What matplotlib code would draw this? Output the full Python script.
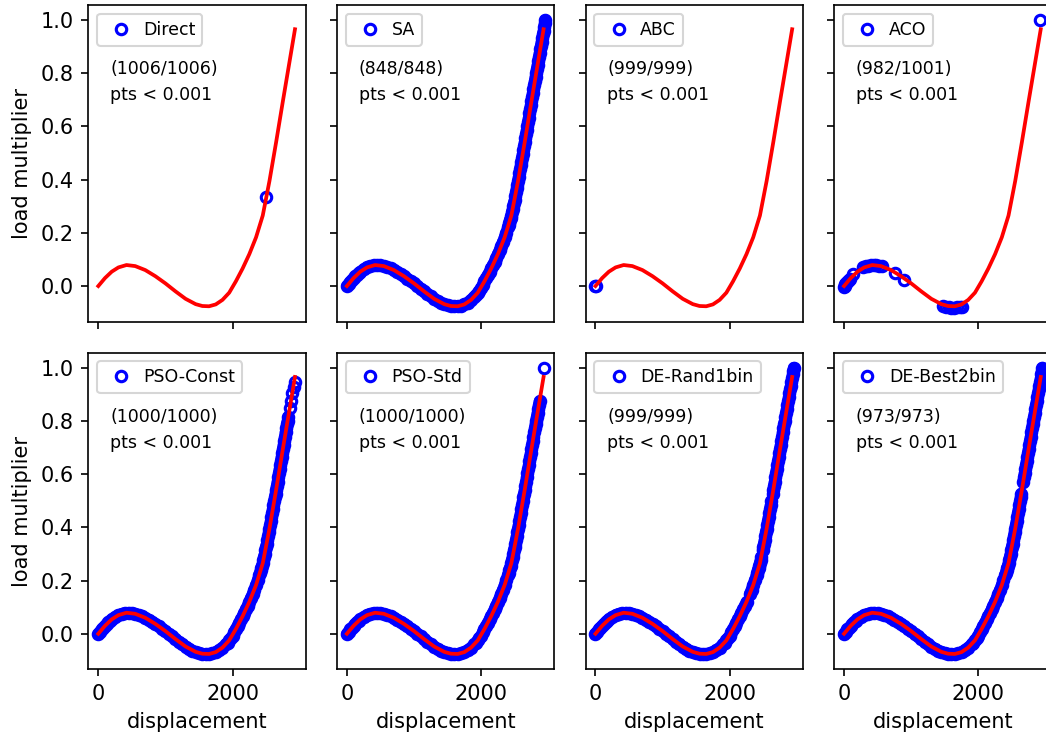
import matplotlib
matplotlib.use("Agg")
import matplotlib.pyplot as plt
import numpy as np

# ---------------- data ----------------
methods = ["Direct", "SA", "ABC", "ACO", "PSO-Const", "PSO-Std", "DE-Rand1bin", "DE-Best2bin"]
counts = ["(1006/1006)", "(848/848)", "(999/999)", "(982/1001)",
          "(1000/1000)", "(1000/1000)", "(999/999)", "(973/973)"]
tol_text = "pts < 0.001"

# reference equilibrium path (red line)
ref_x = [0, 100, 200, 300, 420, 550, 700, 850, 1000, 1150, 1300, 1450, 1550, 1650,
         1750, 1850, 1950, 2050, 2150, 2250, 2350, 2450, 2550, 2650, 2750, 2850, 2930]
ref_y = [0.000, 0.030, 0.054, 0.070, 0.079, 0.075, 0.060, 0.037, 0.010, -0.020, -0.048,
         -0.068, -0.075, -0.076, -0.069, -0.052, -0.025, 0.018, 0.066, 0.120, 0.183,
         0.265, 0.395, 0.542, 0.695, 0.845, 0.965]

# densely traced solution points (blue markers)
path_x = [0, 25, 50, 75, 100, 125, 150, 175, 200, 250, 300, 350, 400, 450, 500, 550,
          600, 650, 700, 750, 800, 850, 900, 950, 1000, 1050, 1100, 1150, 1200, 1250,
          1300, 1350, 1400, 1450, 1500, 1550, 1600, 1650, 1700, 1750, 1800, 1850, 1900,
          1925, 1950, 1975, 2000, 2025, 2050, 2075, 2100, 2125, 2150, 2175, 2200, 2225,
          2250, 2275, 2300, 2325, 2350, 2375,
          2400, 2410, 2420, 2430, 2440, 2450, 2460, 2470, 2480, 2490, 2500, 2510, 2520,
          2530, 2540, 2550, 2560, 2570, 2580, 2590, 2600, 2610, 2620, 2630, 2640, 2650,
          2660, 2670, 2680, 2690, 2700, 2710, 2720, 2730, 2740, 2750, 2760, 2770, 2780,
          2790, 2800, 2810, 2820, 2830, 2840, 2850, 2860, 2870, 2880, 2890, 2900, 2910,
          2920, 2930, 2940, 2948, 2955]
path_y = [0.000, 0.008, 0.016, 0.023, 0.030, 0.037, 0.043, 0.049, 0.054, 0.063, 0.070,
          0.075, 0.078, 0.079, 0.078, 0.075, 0.071, 0.066, 0.060, 0.053, 0.045, 0.037,
          0.028, 0.019, 0.010, 0.000, -0.010, -0.020, -0.030, -0.039, -0.048, -0.056,
          -0.063, -0.068, -0.072, -0.075, -0.076, -0.076, -0.074, -0.069, -0.062, -0.052,
          -0.040, -0.033, -0.025, -0.017, -0.008, 0.005, 0.018, 0.030, 0.042, 0.054,
          0.066, 0.079, 0.092, 0.106, 0.120, 0.135, 0.150, 0.166, 0.183, 0.201,
          0.220, 0.229, 0.238, 0.247, 0.256, 0.265, 0.277, 0.289, 0.301, 0.313, 0.325,
          0.339, 0.353, 0.367, 0.381, 0.395, 0.410, 0.424, 0.439, 0.453, 0.468, 0.483,
          0.498, 0.512, 0.527, 0.542, 0.557, 0.572, 0.588, 0.603, 0.618, 0.633, 0.649,
          0.664, 0.680, 0.695, 0.710, 0.726, 0.741, 0.757, 0.772, 0.787, 0.801, 0.816,
          0.830, 0.845, 0.860, 0.874, 0.889, 0.903, 0.918, 0.932, 0.946, 0.960, 0.975,
          0.988, 1.000]

direct_x = [2497]
direct_y = [0.333]
abc_x = [0, 3]
abc_y = [0.000, 0.001]
aco_x = [0, 10, 20, 30, 45, 60, 75, 90, 127, 280, 320, 360, 400, 440, 480, 520, 560,
         760, 900, 1480, 1520, 1560, 1600, 1640, 1680, 1720, 1760, 2920]
aco_y = [-0.004, 0.002, 0.006, 0.010, 0.015, 0.020, 0.024, 0.028, 0.044, 0.071, 0.074,
         0.077, 0.078, 0.079, 0.078, 0.077, 0.075, 0.050, 0.022, -0.076, -0.078, -0.080,
         -0.081, -0.081, -0.080, -0.079, -0.077, 1.000]
pso_const_top = 0.82
pso_const_extra_x = [2852, 2871, 2890, 2908, 2925]
pso_const_extra_y = [0.850, 0.876, 0.903, 0.928, 0.947]
pso_std_top = 0.88
pso_std_extra_x = [2940]
pso_std_extra_y = [1.000]
de_rand_gaps = [(0.133, 0.143), (0.300, 0.312), (0.505, 0.520)]
de_best_gaps = [(0.535, 0.565)]

# ---------------- helpers ----------------
px = np.array(path_x, float)
py = np.array(path_y, float)
EMPTY = np.array([])


def path_without(gaps):
    keep = np.ones(len(py), bool)
    for lo, hi in gaps:
        keep &= ~((py > lo) & (py < hi))
    bx = np.where(keep, px, np.nan)
    by = np.where(keep, py, np.nan)
    return px[keep], py[keep], bx, by


def path_below(top, ex, ey):
    keep = py <= top
    mx = np.concatenate([px[keep], ex])
    my = np.concatenate([py[keep], ey])
    return mx, my, px[keep], py[keep]


blue = {
    "Direct": (direct_x, direct_y, EMPTY, EMPTY),
    "SA": (px, py, px, py),
    "ABC": (abc_x, abc_y, EMPTY, EMPTY),
    "ACO": (aco_x, aco_y, EMPTY, EMPTY),
    "PSO-Const": path_below(pso_const_top, pso_const_extra_x, pso_const_extra_y),
    "PSO-Std": path_below(pso_std_top, pso_std_extra_x, pso_std_extra_y),
    "DE-Rand1bin": path_without(de_rand_gaps),
    "DE-Best2bin": path_without(de_best_gaps),
}

# ---------------- figure ----------------
fig, axes = plt.subplots(2, 4, figsize=(1046 / 150, 740 / 150), dpi=150,
                         sharex=True, sharey=True)
fig.subplots_adjust(left=0.0846, right=1.0053, top=0.9932, bottom=0.0954,
                    wspace=0.144, hspace=0.098)

for ax, name, cnt in zip(axes.flat, methods, counts):
    mx, my, bx, by = blue[name]
    # dense runs of overlapping circles form a solid band
    if len(bx):
        ax.plot(bx, by, "-", color="blue", lw=5.6, solid_capstyle="round",
                solid_joinstyle="round", zorder=1)
    ax.plot(mx, my, "o", mfc="none", mec="blue", ms=5.0, mew=1.5, label=name,
            linestyle="none", zorder=2)
    ax.plot(ref_x, ref_y, "-", color="red", lw=1.8, zorder=3)
    ax.legend(loc="upper left", fontsize="small", numpoints=1, handletextpad=0.25)
    ax.text(0.10, 0.782, cnt, transform=ax.transAxes, fontsize="small", va="baseline")
    ax.text(0.10, 0.700, tol_text, transform=ax.transAxes, fontsize="small", va="baseline")

ax0 = axes[0, 0]
ax0.set_xlim(-146, 3091)
ax0.set_ylim(-0.134, 1.056)
ax0.set_xticks([0, 2000])
ax0.set_yticks([0.0, 0.2, 0.4, 0.6, 0.8, 1.0])

for ax in axes[:, 0]:
    ax.set_ylabel("load multiplier")
for ax in axes[1, :]:
    ax.set_xlabel("displacement")

fig.savefig("out.png", dpi=150)
